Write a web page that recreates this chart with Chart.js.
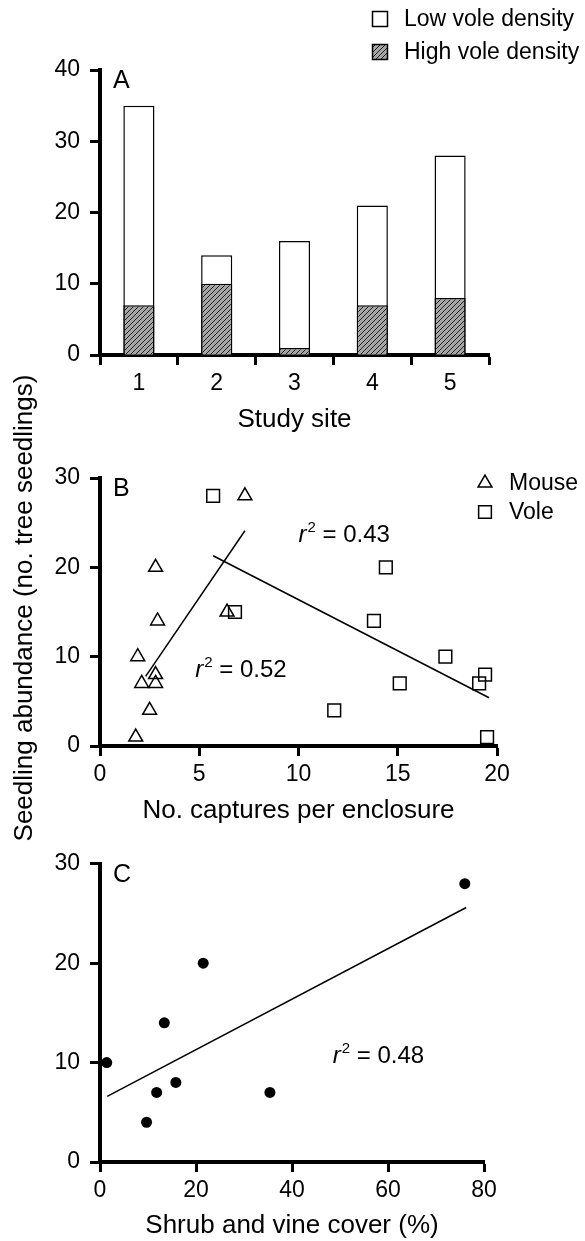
<!DOCTYPE html>
<html>
<head>
<meta charset="utf-8">
<title>Seedling abundance</title>
<script src="https://cdn.jsdelivr.net/npm/chart.js@4.4.1/dist/chart.umd.min.js"></script>
<style>
  html, body { margin: 0; padding: 0; background: #fff; }
  body { width: 585px; height: 1241px; position: relative; overflow: hidden; }
  canvas { position: absolute; left: 0; }
  #chartA { top: 0; }
  #chartB { top: 360px; }
  #chartC { top: 840px; }
</style>
</head>
<body>
<canvas id="chartA" width="585" height="440"></canvas>
<canvas id="chartB" width="585" height="490"></canvas>
<canvas id="chartC" width="585" height="401"></canvas>
<script>
// ── data ──────────────────────────────────────────────────────
const SITES     = ['1', '2', '3', '4', '5'];
const LOW_VOLE  = [35, 14, 16, 21, 28];
const HIGH_VOLE = [7, 10, 1, 7, 8];

const MOUSE_CAPTURES  = [7.3, 2.8, 2.9, 1.9, 2.8, 2.1, 2.8, 2.5, 1.8, 6.4];
const MOUSE_SEEDLINGS = [28, 20, 14, 10, 8, 7, 7, 4, 1, 15];
const VOLE_CAPTURES   = [5.7, 6.8, 14.4, 13.8, 17.4, 15.1, 11.8, 19.1, 19.4, 19.5];
const VOLE_SEEDLINGS  = [28, 15, 20, 14, 10, 7, 4, 7, 8, 1];
const MOUSE_FIT_X = [2.3, 7.3];
const MOUSE_FIT_Y = [7.8, 24.1];
const VOLE_FIT_X  = [5.7, 19.6];
const VOLE_FIT_Y  = [21.3, 5.4];

const COVER_PCT       = [1.4, 9.7, 11.8, 13.4, 15.8, 21.5, 35.4, 76];
const COVER_SEEDLINGS = [10, 4, 7, 14, 8, 20, 7, 28];
const COVER_FIT_X = [1.5, 76.3];
const COVER_FIT_Y = [6.6, 25.6];

const Y_TICKS_A  = [0, 10, 20, 30, 40];
const Y_TICKS_BC = [0, 10, 20, 30];
const X_TICKS_B  = [0, 5, 10, 15, 20];
const X_TICKS_C  = [0, 20, 40, 60, 80];

// ── style ─────────────────────────────────────────────────────
const FAMILY = '"Liberation Sans", Arial, Helvetica, sans-serif';
Chart.defaults.font.family = FAMILY;
Chart.defaults.color = '#000';

const TICK_FONT  = { size: 23 };
const TITLE_FONT = { size: 26 };

const toPoints = (xs, ys) => xs.map((x, i) => ({ x, y: ys[i] }));

function makeHatch(canvas) {
  const c = document.createElement('canvas');
  c.width = 5; c.height = 5;
  const g = c.getContext('2d');
  g.fillStyle = '#a6a6a6';
  g.fillRect(0, 0, 5, 5);
  g.strokeStyle = '#222';
  g.lineWidth = 1;
  g.beginPath();
  g.moveTo(0, 5); g.lineTo(5, 0);
  g.moveTo(-1, 1); g.lineTo(1, -1);
  g.moveTo(4, 6); g.lineTo(6, 4);
  g.stroke();
  return canvas.getContext('2d').createPattern(c, 'repeat');
}

function axis(kind, extra) {
  const s = {
    border: { display: true, color: '#000', width: 4 },
    grid: {
      display: true, drawOnChartArea: false, drawTicks: true,
      tickLength: 10, tickWidth: 3, tickColor: '#000',
    },
    ticks: { color: '#000', font: TICK_FONT, padding: kind === 'y' ? 10 : 5 },
  };
  return Object.assign(s, extra);
}

function fixedTicks(values) {
  return scale => { scale.ticks = values.map(v => ({ value: v })); };
}

// r² = … annotation
function drawR2(ctx, x, y, value) {
  ctx.textAlign = 'left';
  ctx.textBaseline = 'alphabetic';
  ctx.font = `italic 24px ${FAMILY}`;
  ctx.fillText('r', x, y);
  let w = ctx.measureText('r').width + 1;
  ctx.font = `15px ${FAMILY}`;
  ctx.fillText('2', x + w, y - 10);
  w += ctx.measureText('2').width;
  ctx.font = `24px ${FAMILY}`;
  ctx.fillText(' = ' + value, x + w, y);
}

// panel letter, r² notes, legends, shared y title
const decor = {
  id: 'decor',
  afterDraw(chart, args, opts) {
    const { ctx, chartArea, scales } = chart;
    ctx.save();
    ctx.fillStyle = '#000';

    if (opts.letter) {
      ctx.font = `25px ${FAMILY}`;
      ctx.textAlign = 'left';
      ctx.textBaseline = 'alphabetic';
      ctx.fillText(opts.letter, chartArea.left + 13, chartArea.top + 18);
    }

    (opts.notes || []).forEach(n => {
      drawR2(ctx, scales.x.getPixelForValue(n.x), scales.y.getPixelForValue(n.y), n.value);
    });

    (opts.legend || []).forEach(item => {
      ctx.lineWidth = 1.5;
      ctx.strokeStyle = '#000';
      if (item.symbol === 'box') {
        ctx.fillStyle = item.fill;
        ctx.fillRect(item.x - 7.5, item.y - 7.5, 15, 15);
        ctx.strokeRect(item.x - 7.5, item.y - 7.5, 15, 15);
      } else {
        ctx.fillStyle = '#fff';
        Chart.helpers.drawPoint(ctx, {
          pointStyle: item.symbol, radius: item.radius, borderWidth: 1.5,
        }, item.x, item.y);
      }
      ctx.fillStyle = '#000';
      ctx.font = `23px ${FAMILY}`;
      ctx.textAlign = 'left';
      ctx.textBaseline = 'middle';
      ctx.fillText(item.label, item.x + 24, item.y + 1);
    });

    if (opts.yTitle) {
      ctx.translate(25, (chartArea.top + chartArea.bottom) / 2 - 4);
      ctx.rotate(-Math.PI / 2);
      ctx.font = `26px ${FAMILY}`;
      ctx.textAlign = 'center';
      ctx.textBaseline = 'middle';
      ctx.fillText(opts.yTitle, 0, 0);
    }
    ctx.restore();
  },
};

const common = {
  responsive: false,
  animation: false,
  events: [],
};

// ── A: seedlings per study site, low vs high vole density ─────
const canvasA = document.getElementById('chartA');
const hatch = makeHatch(canvasA);

new Chart(canvasA, {
  type: 'bar',
  data: {
    labels: SITES,
    datasets: [
      {
        label: 'High vole density',
        data: HIGH_VOLE,
        backgroundColor: hatch,
        borderColor: '#000',
        borderWidth: 1.5,
        barPercentage: 0.4,
        categoryPercentage: 1,
      },
      {
        label: 'Low vole density',
        data: LOW_VOLE,
        backgroundColor: '#fff',
        borderColor: '#000',
        borderWidth: 1.5,
        barPercentage: 0.4,
        categoryPercentage: 1,
      },
    ],
  },
  options: {
    ...common,
    layout: { padding: { top: 70, right: 96, bottom: 0, left: 0 } },
    plugins: {
      legend: { display: false },
      tooltip: { enabled: false },
      decor: {
        letter: 'A',
        legend: [
          { symbol: 'box', fill: '#fff', x: 380, y: 19, label: 'Low vole density' },
          { symbol: 'box', fill: hatch, x: 380, y: 52, label: 'High vole density' },
        ],
      },
    },
    scales: {
      x: axis('x', {
        type: 'category',
        stacked: true,
        offset: true,
        grid: {
          display: true, drawOnChartArea: false, drawTicks: true, offset: true,
          tickLength: 10, tickWidth: 3, tickColor: '#000',
        },
        title: { display: true, text: 'Study site', font: TITLE_FONT, color: '#000', padding: { top: 0, bottom: 5 } },
        afterFit: s => { s.height = 85; },
      }),
      y: axis('y', {
        stacked: false,
        min: 0, max: 40,
        afterBuildTicks: fixedTicks(Y_TICKS_A),
        afterFit: s => { s.width = 100; },
      }),
    },
  },
  plugins: [decor],
});

// ── B: seedlings vs captures (mouse / vole) ───────────────────
new Chart(document.getElementById('chartB'), {
  type: 'scatter',
  data: {
    datasets: [
      {
        label: 'Mouse',
        data: toPoints(MOUSE_CAPTURES, MOUSE_SEEDLINGS),
        pointStyle: 'triangle',
        pointRadius: 8,
        backgroundColor: 'rgba(255,255,255,0)',
        borderColor: '#000',
        borderWidth: 1.5,
      },
      {
        label: 'Vole',
        data: toPoints(VOLE_CAPTURES, VOLE_SEEDLINGS),
        pointStyle: 'rect',
        pointRadius: 9,
        backgroundColor: 'rgba(255,255,255,0)',
        borderColor: '#000',
        borderWidth: 1.5,
      },
      {
        label: 'Mouse fit',
        data: toPoints(MOUSE_FIT_X, MOUSE_FIT_Y),
        showLine: true, pointRadius: 0, borderColor: '#000', borderWidth: 1.5,
      },
      {
        label: 'Vole fit',
        data: toPoints(VOLE_FIT_X, VOLE_FIT_Y),
        showLine: true, pointRadius: 0, borderColor: '#000', borderWidth: 1.5,
      },
    ],
  },
  options: {
    ...common,
    clip: false,
    layout: { padding: { top: 118, right: 88, bottom: 24, left: 0 } },
    plugins: {
      legend: { display: false },
      tooltip: { enabled: false },
      decor: {
        letter: 'B',
        yTitle: 'Seedling abundance (no. tree seedlings)',
        notes: [
          { x: 10.0, y: 22.8, value: '0.43' },
          { x: 4.8, y: 7.7, value: '0.52' },
        ],
        legend: [
          { symbol: 'triangle', radius: 8, x: 485, y: 123, label: 'Mouse' },
          { symbol: 'rect', radius: 9, x: 485, y: 152, label: 'Vole' },
        ],
      },
    },
    scales: {
      x: axis('x', {
        type: 'linear',
        min: 0, max: 20,
        afterBuildTicks: fixedTicks(X_TICKS_B),
        title: { display: true, text: 'No. captures per enclosure', font: TITLE_FONT, color: '#000', padding: { top: 0, bottom: 0 } },
        afterFit: s => { s.height = 80; },
      }),
      y: axis('y', {
        min: 0, max: 30,
        afterBuildTicks: fixedTicks(Y_TICKS_BC),
        afterFit: s => { s.width = 100; },
      }),
    },
  },
  plugins: [decor],
});

// ── C: seedlings vs shrub and vine cover ──────────────────────
new Chart(document.getElementById('chartC'), {
  type: 'scatter',
  data: {
    datasets: [
      {
        label: 'Sites',
        data: toPoints(COVER_PCT, COVER_SEEDLINGS),
        pointStyle: 'circle',
        pointRadius: 5.5,
        backgroundColor: '#000',
        borderColor: '#000',
        borderWidth: 0,
      },
      {
        label: 'Fit',
        data: toPoints(COVER_FIT_X, COVER_FIT_Y),
        showLine: true, pointRadius: 0, borderColor: '#000', borderWidth: 1.5,
      },
    ],
  },
  options: {
    ...common,
    clip: false,
    layout: { padding: { top: 23, right: 101, bottom: 0, left: 0 } },
    plugins: {
      legend: { display: false },
      tooltip: { enabled: false },
      decor: {
        letter: 'C',
        notes: [{ x: 48.5, y: 10.0, value: '0.48' }],
      },
    },
    scales: {
      x: axis('x', {
        type: 'linear',
        min: 0, max: 80,
        afterBuildTicks: fixedTicks(X_TICKS_C),
        title: { display: true, text: 'Shrub and vine cover (%)', font: TITLE_FONT, color: '#000', padding: { top: 0, bottom: 0 } },
        afterFit: s => { s.height = 79; },
      }),
      y: axis('y', {
        min: 0, max: 30,
        afterBuildTicks: fixedTicks(Y_TICKS_BC),
        afterFit: s => { s.width = 100; },
      }),
    },
  },
  plugins: [decor],
});
</script>
</body>
</html>
